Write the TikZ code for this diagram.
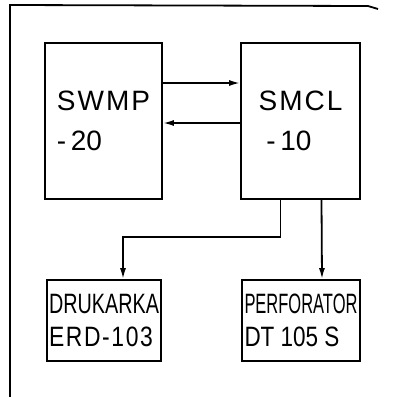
\documentclass[tikz,border=0pt]{standalone}
\usepackage{fontspec}
\setmainfont{Liberation Sans}
\usetikzlibrary{arrows.meta}

\tikzset{
  block/.style={draw,line width=1.8pt,align=left,inner sep=0pt,
    font=\fontsize{28}{40}\selectfont},
  unit/.style={draw,line width=1.8pt,align=left,inner sep=0pt,
    font=\fontsize{28}{33}\selectfont},
  link/.style={line width=1.8pt,-{Latex[length=11pt,width=6pt]}}
}
\newcommand{\narrow}[2]{\resizebox{#1}{\height}{#2}}
\newcommand{\gap}{\kern2pt}

\begin{document}
\begin{tikzpicture}[x=1pt,y=-1pt]

            \useasboundingbox (0,0) rectangle (393,397);

            \draw[line width=1.8pt] (10,397) -- (10,5) -- (368,6) -- (378,9);

            \node[block,minimum width=117pt,minimum height=156pt] (swmp) at (103.5,121)
            {S\gap W\gap M\gap P\\-\,20};
            \node[block,minimum width=119pt,minimum height=156pt] (smcl) at (300.5,121)
            {S\gap M\gap C\gap L\\\;-\,10};

            \node[unit,minimum width=114pt,minimum height=81pt] (druk) at (104,320.5)
            {\narrow{110pt}{DRUKARKA}\\\narrow{104pt}{E\gap R\gap D\gap -\gap 1\gap 0\gap 3}};
            \node[unit,minimum width=118pt,minimum height=81pt] (perf) at (301,320.5)
            {\narrow{113pt}{PERFORATOR}\\\narrow{95pt}{DT 105 S}};

            \draw[link] ([yshift=38pt]swmp.east) -- ([yshift=38pt]smcl.west);
            \draw[link] ([yshift=-2pt]smcl.west) -- ([yshift=-2pt]swmp.east);

            \coordinate (bend) at (200,237);
            \draw[link] ([xshift=-20pt]smcl.south) |- (bend) -| ([xshift=19pt]druk.north);
            \draw[link] ([xshift=21pt]smcl.south) -- ([xshift=21pt]perf.north);
        \end{tikzpicture}
\end{document}
